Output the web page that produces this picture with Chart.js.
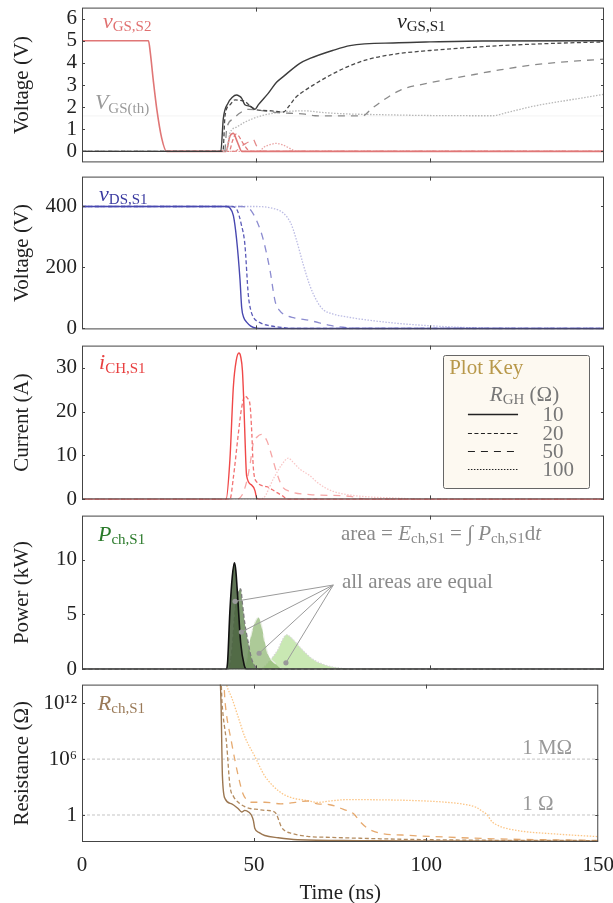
<!DOCTYPE html>
<html>
<head>
<meta charset="utf-8">
<script src="https://cdn.jsdelivr.net/npm/chart.js@4.4.1/dist/chart.umd.min.js"></script>
<style>
  html, body { margin: 0; padding: 0; background: #fff; }
  #wrap { position: relative; width: 613px; height: 903px; overflow: hidden; }
  #wrap canvas { position: absolute; left: 0; }
</style>
</head>
<body>
<div id="wrap">
  <canvas id="p1" width="625" height="190" style="top:-10px"></canvas>
  <canvas id="p2" width="625" height="188" style="top:159px"></canvas>
  <canvas id="p3" width="625" height="189" style="top:328px"></canvas>
  <canvas id="p4" width="625" height="189" style="top:498px"></canvas>
  <canvas id="p5" width="625" height="236" style="top:667px"></canvas>
</div>
<script>
const SERIF = "'Liberation Serif', 'DejaVu Serif', serif";
const INK = '#222';

// shared
const timeTicks = [0, 50, 100, 150];
const rghLabels = ['10', '20', '50', '100'];
const DASH = [[], [4, 2.5], [7, 6], [1.5, 1.5]];

// panel 1 - gate voltages (t ns, V)
const vgsTicks = [0, 1, 2, 3, 4, 5, 6];
const vgsS1_10 = [[0,0],[39.9,0],[40.6,1.47],[42,2.19],[43.2,2.45],[44.4,2.55],[45.2,2.5],[45.9,2.4],[46.8,2.11],[48.3,2.04],[49.7,1.9],[50.7,2.11],[53.5,2.62],[55.9,3.12],[58,3.4],[62.6,3.98],[65.5,4.2],[72,4.56],[77,4.78],[91,4.91],[100,4.95],[115,4.99],[150,5]];
const vgsS1_20 = [[0,0],[40.5,0],[41.1,1.61],[42.5,2.1],[44,2.33],[45.5,2.3],[46.8,2.26],[48.3,2.05],[49.7,1.9],[52,1.85],[54.5,1.83],[57.9,1.78],[59.5,2.05],[61.2,2.4],[64,2.75],[67,3.05],[72,3.5],[77,3.87],[82,4.15],[90,4.4],[100,4.56],[110,4.68],[120,4.78],[135,4.88],[150,4.95]];
const vgsS1_50 = [[0,0],[41,0],[41.6,1.04],[43.5,1.47],[44.9,1.68],[47.8,1.9],[52.1,1.83],[55.5,1.76],[64.1,1.68],[67,1.61],[75,1.6],[80.8,1.61],[83,1.9],[86,2.25],[91.4,2.76],[100,3.1],[110.5,3.41],[120,3.68],[129.7,3.91],[140,4.06],[150,4.17]];
const vgsS1_100 = [[0,0],[41.5,0],[42.5,0.82],[44.5,1.1],[46.8,1.32],[51.6,1.61],[57.4,1.78],[64.1,1.83],[68.9,1.76],[75,1.7],[85,1.66],[100,1.62],[118,1.61],[122,1.75],[129.7,2.04],[140,2.32],[150,2.58]];
const vgsS2_10 = [[0,5],[19.1,5],[19.6,4.5],[20.5,3.19],[21.5,1.9],[22.9,0.6],[24.3,0],[41.4,0],[42.5,0.68],[43.5,0.82],[44.2,0.6],[44.9,0.32],[45.9,0],[150,0]];
const vgsS2_20 = [[24.3,0],[42.3,0],[43.2,0.45],[44.2,0.78],[45,0.7],[45.9,0.46],[47,0.2],[47.8,0.05],[48.5,0],[150,0]];
const vgsS2_50 = [[24.3,0],[44,0],[45.5,0.2],[47,0.35],[48.2,0.45],[49.2,0.53],[50,0.3],[51,0],[150,0]];
const vgsS2_100 = [[24.3,0],[51,0],[52.1,0.17],[54,0.3],[55.9,0.36],[57.5,0.3],[59.3,0.17],[61,0.03],[62,0],[150,0]];
const vgsTh = 1.6;

// panel 2 - drain-source voltage (t ns, V)
const vdsTicks = [0, 200, 400];
const vds10 = [[0,400],[41.5,400],[42.5,395],[43.5,370],[44.4,295],[45.4,161],[45.9,67],[46.5,35],[47.3,21],[48.5,8],[50.2,1],[52,0],[150,0]];
const vds20 = [[0,400],[43,400],[44.5,390],[45.8,340],[46.8,276],[47.8,109],[48.5,60],[49.3,36],[51,20],[53.2,11],[57.8,3],[60,0],[150,0]];
const vds50 = [[0,400],[46,400],[47.5,396],[48.7,385],[50.5,345],[52,295],[54,192],[55.5,89],[56.7,60],[57.9,47],[61,35],[65.5,26],[71.3,10],[75,4],[80,0],[150,0]];
const vds100 = [[0,400],[50,400],[54,396],[56.5,388],[57.9,378],[60,345],[61.5,295],[63.5,213],[65.5,140],[67.5,90],[69.3,62],[72,48],[77,36],[84,25],[91.4,16],[100,9],[110.6,3],[125,0.5],[150,0]];

// panel 3 - channel current (t ns, A)
const ichTicks = [0, 10, 20, 30];
const ich10 = [[0,0],[41.4,0],[42.5,9],[43.5,25.7],[44.3,31.5],[45.1,33.3],[45.6,32.5],[46.1,29.3],[46.5,22],[46.8,14.8],[47.3,5.4],[48.7,3.3],[49.7,2],[50.2,0.3],[51,0],[150,0]];
const ich20 = [[0,0],[42.5,0],[43.5,5],[44.9,14.8],[45.8,20.5],[46.8,23.5],[47.6,23],[48.3,21.4],[48.8,15],[49.2,7.6],[50.2,4],[53.1,2.9],[55.5,1.8],[57.8,0.7],[59,0],[150,0]];
const ich50 = [[0,0],[44.5,0],[46,1],[47.3,4],[48.3,8],[49.2,12.7],[50.3,14.2],[51.6,14.8],[53.1,13.4],[54.5,10],[55.9,6.2],[57.5,3],[59.8,1.8],[65.5,1.1],[77,0.7],[82,0],[150,0]];
const ich100 = [[0,0],[50.5,0],[52.1,0.3],[55,4.7],[57.5,8],[59.3,9.4],[60.5,8.6],[62.6,6.9],[65.5,5.4],[67.4,4],[70,2.6],[72.2,1.8],[77,1],[81.8,0.6],[90,0.3],[100,0],[150,0]];

// panel 4 - channel power (t ns, kW)
const pchTicks = [0, 5, 10];
const pch10 = [[0,0],[41.4,0],[41.8,0.5],[42.5,5.3],[43.2,8.5],[43.8,9.7],[44.2,9],[44.7,6.76],[45.6,2.4],[46.6,0.4],[47.3,0],[150,0]];
const pch20 = [[0,0],[42,0],[43,1.5],[44,5.3],[44.9,7],[45.6,7.33],[46.1,6],[46.8,4.16],[47.8,2.4],[48.7,1],[49.7,0.3],[51,0],[150,0]];
const pch50 = [[0,0],[46,0],[46.8,0.2],[48.3,2.7],[49.2,3.87],[50.7,4.73],[51.6,4],[52.6,2.4],[53.6,1.27],[55.5,0.55],[57,0.1],[58,0],[150,0]];
const pch100 = [[0,0],[51,0],[51.6,0.05],[54.5,1],[56.4,1.85],[57.4,2.57],[58.8,3.15],[60.7,2.7],[63.1,1.85],[66,1],[69.8,0.4],[74.6,0.1],[78,0],[150,0]];
const pchLinkHub = [72.2, 7.68];
const pchLinkEnds = [[44.0,6.2],[45.8,3.4],[50.9,1.47],[58.6,0.6]];

// panel 5 - channel resistance (t ns, log10 ohm)
const rchTicks = [1, 1e6, 1e12];
const rchTickLabels = ['1', '10\u2076', '10\u00b9\u00b2'];
const rch10 = [[0,15],[40,15],[40.4,12],[40.8,4.2],[41.6,1.73],[43.5,1.2],[45.4,0.67],[46.4,0.32],[47.3,0.5],[48.5,0.3],[49.2,0],[49.8,-0.6],[50.2,-1.43],[51.5,-1.9],[53.1,-2.2],[57,-2.45],[62.6,-2.66],[80,-2.75],[100,-2.8],[150,-2.82]];
const rch20 = [[0,15],[40.3,15],[40.7,12],[42,7.7],[43,3.1],[44,2],[45.4,1.37],[47.3,0.9],[49.2,0.67],[51,0.6],[53.1,0.5],[55.5,0.4],[56.4,0.15],[57.2,-0.6],[57.9,-1.26],[59,-1.7],[60.7,-1.96],[65.5,-2.3],[72,-2.4],[100,-2.65],[150,-2.75]];
const rch50 = [[0,15],[41,15],[41.6,12],[43.5,7.7],[45.4,4.2],[46.8,2.25],[48,1.6],[49.2,1.37],[53.1,1.37],[57.8,1.2],[62,1.35],[65.5,1.5],[68.4,1.2],[72,1.1],[76,0.6],[79,0.1],[81,-0.8],[83,-1.43],[86.6,-1.96],[93,-2.15],[101,-2.3],[120,-2.56],[150,-2.73]];
const rch100 = [[0,15],[41.5,15],[42,14],[43.5,12.6],[45.4,10.5],[47.3,8.4],[50.2,6.3],[53.1,4.2],[57.8,2.4],[61,1.85],[65.5,1.55],[68.4,1.35],[72,1.5],[77,1.65],[91.4,1.6],[100,1.5],[105.7,1.37],[111,1.15],[114.4,0.84],[116.5,0.35],[117.5,0.1],[119.2,-0.74],[121,-1.15],[124,-1.5],[129,-1.8],[134.5,-1.96],[142,-2.15],[150,-2.32]];
const rchRefLines = [1, 1e6];

const pts = arr => arr.map(([x, y]) => ({ x, y }));
const logPts = arr => arr.map(([x, e]) => ({ x, y: Math.pow(10, e) }));

function line(data, color, dash, width) {
  return {
    data, borderColor: color, borderDash: dash, borderWidth: width || 1.3,
    pointRadius: 0, fill: false, cubicInterpolationMode: 'monotone'
  };
}

function drawRich(ctx, x, y, parts, color, size) {
  ctx.save();
  ctx.fillStyle = color;
  ctx.textBaseline = 'alphabetic';
  ctx.textAlign = 'left';
  let cx = x;
  parts.forEach(([txt, style]) => {
    let s = size, dy = 0, st = '';
    if (style === 'i') st = 'italic ';
    if (style === 's') { s = Math.round(size * 0.7); dy = size * 0.15; }
    ctx.font = st + s + 'px ' + SERIF;
    ctx.fillText(txt, cx, y + dy);
    cx += ctx.measureText(txt).width;
  });
  ctx.restore();
}

// box around the plot area with small inward ticks
const framePlugin = {
  id: 'frame',
  afterDraw(chart) {
    const { ctx, chartArea: a, scales } = chart;
    const xs = scales.x, ys = scales.y;
    ctx.save();
    ctx.strokeStyle = '#444';
    ctx.lineWidth = 1;
    ctx.strokeRect(a.left + 0.5, a.top + 0.5, a.right - a.left - 1, a.bottom - a.top - 1);
    ctx.beginPath();
    [50, 100].forEach(v => {
      const px = Math.round(xs.getPixelForValue(v)) + 0.5;
      ctx.moveTo(px, a.top); ctx.lineTo(px, a.top + 4);
      ctx.moveTo(px, a.bottom); ctx.lineTo(px, a.bottom - 4);
    });
    ys.ticks.forEach(t => {
      const py = Math.round(ys.getPixelForValue(t.value)) + 0.5;
      ctx.moveTo(a.left, py); ctx.lineTo(a.left + 3, py);
      ctx.moveTo(a.right, py); ctx.lineTo(a.right - 3, py);
    });
    ctx.stroke();
    ctx.restore();
  }
};

function textPlugin(items) {
  return {
    id: 'richText',
    afterDatasetsDraw(chart) {
      const { ctx, scales: { x, y } } = chart;
      items.forEach(it => drawRich(ctx, x.getPixelForValue(it.x), y.getPixelForValue(it.y), it.parts, it.color, it.size || 22));
    }
  };
}

// plot key in the current panel
const keyRowY = [19.4, 15.2, 11.1, 6.9];
const keyPlugin = {
  id: 'plotKey',
  afterDatasetsDraw(chart) {
    const { ctx, scales: { x, y } } = chart;
    const l = Math.round(x.getPixelForValue(103.7)) + 0.5, r = Math.round(x.getPixelForValue(145.7)) + 0.5;
    const t = Math.round(y.getPixelForValue(32.8)) + 0.5, b = Math.round(y.getPixelForValue(2.5)) + 0.5;
    ctx.save();
    ctx.fillStyle = '#fdf9f1';
    ctx.strokeStyle = '#666';
    ctx.lineWidth = 1;
    ctx.beginPath();
    ctx.roundRect(l, t, r - l, b - t, 2);
    ctx.fill();
    ctx.stroke();
    drawRich(ctx, x.getPixelForValue(105.5), y.getPixelForValue(28.5), [['Plot Key', 'r']], '#b8984a', 21);
    drawRich(ctx, x.getPixelForValue(117.2), y.getPixelForValue(22.5), [['R', 'i'], ['GH', 's'], [' (\u03a9)', 'r']], '#777', 21);
    keyRowY.forEach((yv, i) => {
      const py = Math.round(y.getPixelForValue(yv)) + 0.5;
      ctx.strokeStyle = '#222';
      ctx.lineWidth = i === 0 ? 1.6 : 1.2;
      ctx.setLineDash(DASH[i]);
      ctx.beginPath();
      ctx.moveTo(x.getPixelForValue(110.9), py);
      ctx.lineTo(x.getPixelForValue(125.3), py);
      ctx.stroke();
      ctx.setLineDash([]);
      drawRich(ctx, x.getPixelForValue(132.3), py + 6.5, [[rghLabels[i], 'r']], '#777', 21);
    });
    ctx.restore();
  }
};

function yAxis(title, min, max, ticks, extra) {
  return Object.assign({
    type: 'linear', min, max,
    afterBuildTicks: s => { s.ticks = ticks.map(v => ({ value: v })); },
    afterFit: s => { s.width = 82; },
    grid: { display: false, drawTicks: false },
    border: { display: false },
    ticks: { font: { family: SERIF, size: 21 }, color: INK, padding: 5, autoSkip: false },
    title: { display: true, text: title, font: { family: SERIF, size: 21 }, color: INK, padding: { top: 10, bottom: 0 } }
  }, extra || {});
}

function makeChart(id, datasets, y, extraPlugins, showX) {
  return new Chart(document.getElementById(id), {
    type: 'line',
    data: { datasets },
    options: {
      responsive: false,
      animation: false,
      events: [],
      layout: { padding: { top: 14, bottom: showX ? 0 : 14, left: 0, right: 21 } },
      plugins: { legend: { display: false }, tooltip: { enabled: false } },
      scales: {
        x: {
          type: 'linear', min: 0, max: 150, display: showX,
          afterBuildTicks: s => { s.ticks = timeTicks.map(v => ({ value: v })); },
          afterFit: s => { if (showX) s.height = 61; },
          grid: { display: false, drawTicks: false },
          border: { display: false },
          ticks: { font: { family: SERIF, size: 21 }, color: INK, padding: 11, maxRotation: 0, autoSkip: false },
          title: { display: showX, text: 'Time (ns)', font: { family: SERIF, size: 21 }, color: INK, padding: { top: 0, bottom: -3 } }
        },
        y
      }
    },
    plugins: [framePlugin].concat(extraPlugins)
  });
}

// panel 1
const greyS1 = ['#3c3c3c', '#4a4a4a', '#8a8a8a', '#b8b8b8'];
const redS2 = ['#e07676', '#e27a7a', '#e48888', '#eaa4a4'];
makeChart('p1', [
  line(pts(vgsS1_10), greyS1[0], DASH[0], 1.4),
  line(pts(vgsS1_20), greyS1[1], DASH[1]),
  line(pts(vgsS1_50), greyS1[2], DASH[2]),
  line(pts(vgsS1_100), greyS1[3], DASH[3]),
  line(pts(vgsS2_10), redS2[0], DASH[0], 1.6),
  line(pts(vgsS2_20), redS2[1], DASH[1]),
  line(pts(vgsS2_50), redS2[2], DASH[2]),
  line(pts(vgsS2_100), redS2[3], DASH[3]),
  line(pts([[0, vgsTh], [150, vgsTh]]), 'rgba(0,0,0,0.05)', [], 1)
], yAxis('Voltage (V)', -0.5, 6.5, vgsTicks), [textPlugin([
  { x: 6.0, y: 5.57, parts: [['v', 'i'], ['GS,S2', 's']], color: '#e07070' },
  { x: 90.5, y: 5.57, parts: [['v', 'i'], ['GS,S1', 's']], color: '#222' },
  { x: 3.7, y: 1.9, parts: [['V', 'i'], ['GS(th)', 's']], color: '#9a9a9a' }
])], false);

// panel 2
const blueDS = ['#4848b0', '#5a5ab8', '#8c8cd0', '#bcbce4'];
makeChart('p2', [
  line(pts(vds10), blueDS[0], DASH[0], 1.4),
  line(pts(vds20), blueDS[1], DASH[1]),
  line(pts(vds50), blueDS[2], DASH[2]),
  line(pts(vds100), blueDS[3], DASH[3])
], yAxis('Voltage (V)', -3, 498, vdsTicks), [textPlugin([
  { x: 4.9, y: 419, parts: [['v', 'i'], ['DS,S1', 's']], color: '#3a3aa0' }
])], false);

// panel 3
const redCH = ['#f04848', '#f27272', '#f6a6a6', '#f9c8c8'];
makeChart('p3', [
  line(pts(ich10), redCH[0], DASH[0], 1.4),
  line(pts(ich20), redCH[1], DASH[1]),
  line(pts(ich50), redCH[2], DASH[2]),
  line(pts(ich100), redCH[3], DASH[3])
], yAxis('Current (A)', 0, 35, ichTicks), [textPlugin([
  { x: 4.9, y: 29.6, parts: [['i', 'i'], ['CH,S1', 's']], color: '#e84040' }
]), keyPlugin], false);

// panel 4
const greenFill = ['rgba(78,102,66,0.9)', 'rgba(108,142,92,0.85)', 'rgba(146,184,118,0.75)', 'rgba(192,228,166,0.85)'];
const greenEdge = ['#111', '#7a7a7a', 'rgba(235,240,230,0.9)', 'rgba(215,215,215,1)'];
function area(data, i) {
  return Object.assign(line(pts(data), greenEdge[i], DASH[i], i === 0 ? 1.6 : 1.3), { fill: 'origin', backgroundColor: greenFill[i] });
}
const links = pchLinkEnds.map(e => ({
  data: pts([pchLinkHub, e]), borderColor: '#9a9a9a', borderWidth: 1, fill: false,
  pointRadius: [0, 2.6], pointBackgroundColor: '#9a9a9a', pointBorderWidth: 0
}));
makeChart('p4', links.concat([
  area(pch10, 0), area(pch20, 1), area(pch50, 2), area(pch100, 3)
]), yAxis('Power (kW)', 0, 14, pchTicks), [textPlugin([
  { x: 4.6, y: 11.7, parts: [['P', 'i'], ['ch,S1', 's']], color: '#2a7a2a' },
  { x: 74.4, y: 11.8, size: 21, color: '#8a8a8a', parts: [['area = ', 'r'], ['E', 'i'], ['ch,S1', 's'], [' = \u222b ', 'r'], ['P', 'i'], ['ch,S1', 's'], ['d', 'r'], ['t', 'i']] },
  { x: 74.7, y: 7.45, size: 21, color: '#8a8a8a', parts: [['all areas are equal', 'r']] }
])], false);

// panel 5
const brownR = ['#9b7650', '#b48c60', '#e6aa70', '#fcc585'];
const refLines = rchRefLines.map(v => line([{ x: 0, y: v }, { x: 150, y: v }], '#c4c4c4', [3, 2], 1));
makeChart('p5', [
  line(logPts(rch10), brownR[0], DASH[0], 1.4),
  line(logPts(rch20), brownR[1], DASH[1]),
  line(logPts(rch50), brownR[2], DASH[2]),
  line(logPts(rch100), brownR[3], DASH[3])
].concat(refLines), yAxis('Resistance (\u03a9)', Math.pow(10, -2.9), Math.pow(10, 14), rchTicks, {
  type: 'logarithmic',
  ticks: {
    font: { family: SERIF, size: 21 }, color: INK, padding: 5, autoSkip: false,
    callback: v => rchTickLabels[rchTicks.indexOf(v)]
  }
}), [textPlugin([
  { x: 4.6, y: Math.pow(10, 11.3), parts: [['R', 'i'], ['ch,S1', 's']], color: '#9a7a58' },
  { x: 127.9, y: Math.pow(10, 6.5), size: 21, color: '#999', parts: [['1 M\u03a9', 'r']] },
  { x: 127.9, y: Math.pow(10, 0.5), size: 21, color: '#999', parts: [['1 \u03a9', 'r']] }
])], true);
</script>
</body>
</html>
